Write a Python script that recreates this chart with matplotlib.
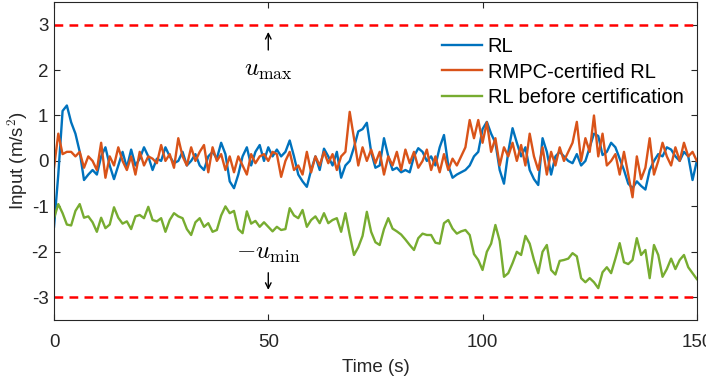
import numpy as np
import matplotlib
matplotlib.use('Agg')
import matplotlib.pyplot as plt

plt.rcParams['font.family'] = ['Liberation Sans', 'DejaVu Sans']
plt.rcParams['mathtext.fontset'] = 'cm'
plt.rcParams['axes.unicode_minus'] = False

# time axis (s), 1 s samples
time = np.arange(0, 151)

u_max = 3.0
u_min = 3.0

rl = [-1.45, -0.30, 1.10, 1.22, 0.85, 0.60, 0.20, -0.42, -0.30, -0.20,
      -0.30, 0.10, 0.30, -0.10, -0.40, -0.10, 0.20, -0.15, 0.25, -0.10,
      0.05, 0.30, 0.10, -0.20, 0.05, 0.00, 0.30, 0.10, -0.05, 0.00,
      0.20, -0.10, 0.00, 0.15, -0.10, -0.20, 0.10, 0.20, 0.05, 0.40,
      0.15, -0.45, -0.60, -0.30, 0.10, 0.30, -0.10, 0.20, 0.35, 0.00,
      0.30, 0.10, 0.25, 0.10, 0.20, 0.45, 0.10, -0.30, -0.45, -0.57,
      -0.20, 0.10, -0.20, 0.27, 0.10, -0.10, 0.20, -0.37, -0.10, 0.00,
      0.30, 0.65, 0.70, 0.84, 0.20, -0.15, -0.10, 0.50, 0.10, -0.20,
      -0.15, -0.25, -0.20, -0.25, 0.10, 0.28, 0.20, 0.00, 0.10, -0.10,
      0.30, 0.57, -0.10, -0.37, -0.30, -0.25, -0.20, -0.10, 0.10, 0.20,
      0.70, 0.86, 0.60, 0.40, -0.20, -0.50, 0.20, 0.72, 0.40, 0.10,
      0.30, -0.20, -0.40, -0.53, 0.50, 0.20, -0.30, 0.10, 0.20, 0.10,
      0.00, -0.05, 0.15, -0.10, 0.00, 0.30, 0.60, 0.55, 0.13, 0.20,
      0.40, 0.30, 0.05, -0.20, -0.50, -0.60, -0.45, -0.55, -0.63, -0.20,
      0.00, 0.15, 0.10, 0.30, 0.25, 0.10, 0.00, 0.20, 0.10, -0.42,
      0.00]

rmpc_rl = [-0.15, 0.60, 0.15, 0.20, 0.20, 0.10, 0.20, -0.15, 0.10, 0.00,
           -0.20, 0.40, -0.37, 0.10, -0.10, 0.30, 0.00, -0.20, 0.10, -0.30,
           0.20, -0.10, 0.10, 0.05, -0.05, 0.35, 0.00, 0.15, -0.15, 0.50,
           0.10, -0.10, 0.30, 0.00, 0.20, 0.35, -0.25, 0.30, 0.00, 0.15,
           -0.20, 0.10, -0.25, 0.10, -0.10, -0.30, 0.15, -0.05, 0.10, 0.15,
           0.00, 0.20, 0.15, -0.35, 0.00, 0.20, -0.20, -0.10, -0.30, 0.20,
           -0.25, 0.10, -0.10, 0.20, -0.05, 0.15, -0.20, 0.10, 0.20, 1.08,
           0.50, -0.10, 0.30, 0.00, 0.25, -0.05, 0.20, -0.30, 0.10, -0.10,
           0.20, -0.20, 0.25, -0.05, 0.20, -0.15, 0.00, 0.25, -0.20, 0.10,
           -0.25, 0.15, -0.20, 0.05, -0.10, 0.10, 0.30, 0.90, 0.50, 0.90,
           0.40, 0.85, 0.20, 0.50, -0.10, 0.30, 0.10, 0.40, 0.00, 0.35,
           -0.10, 0.60, 0.10, -0.20, 0.30, -0.30, 0.20, -0.10, 0.30, 0.00,
           0.20, 0.40, 0.86, 0.00, 0.50, 0.20, 1.00, 0.10, 0.60, -0.10,
           0.00, 0.15, -0.30, 0.20, -0.30, -0.80, 0.10, -0.40, -0.15, 0.50,
           -0.30, 0.00, 0.40, 0.10, -0.10, 0.30, 0.00, 0.40, 0.10, 0.20,
           0.00]

rl_before = [-1.26, -0.95, -1.15, -1.40, -1.42, -1.10, -0.95, -1.25, -1.22, -1.35,
             -1.56, -1.25, -1.48, -1.40, -1.02, -1.25, -1.38, -1.33, -1.50, -1.22,
             -1.19, -1.26, -1.01, -1.30, -1.33, -1.26, -1.56, -1.30, -1.15, -1.22,
             -1.26, -1.50, -1.63, -1.35, -1.26, -1.45, -1.37, -1.56, -1.52, -1.20,
             -1.00, -1.15, -1.10, -1.50, -1.59, -1.11, -1.38, -1.32, -1.45, -1.35,
             -1.45, -1.55, -1.45, -1.52, -1.50, -1.04, -1.20, -1.26, -1.08, -1.45,
             -1.30, -1.22, -1.37, -1.15, -1.37, -1.30, -1.26, -1.56, -1.15, -1.63,
             -2.07, -1.90, -1.65, -1.12, -1.56, -1.79, -1.85, -1.50, -1.26, -1.49,
             -1.55, -1.62, -1.73, -1.85, -1.96, -1.70, -1.60, -1.63, -1.63, -1.80,
             -1.82, -1.37, -1.30, -1.49, -1.60, -1.55, -1.52, -1.63, -2.05, -2.18,
             -2.40, -2.00, -1.82, -1.41, -1.76, -2.55, -2.47, -2.25, -2.00, -2.07,
             -1.65, -1.82, -2.18, -2.47, -2.00, -1.85, -2.40, -2.50, -2.20, -2.18,
             -2.15, -2.03, -2.10, -2.58, -2.67, -2.58, -2.67, -2.80, -2.45, -2.34,
             -2.47, -2.15, -1.81, -2.23, -2.27, -2.18, -1.70, -2.07, -1.96, -2.58,
             -1.85, -2.07, -2.55, -2.38, -2.15, -2.38, -2.18, -2.07, -2.34, -2.47,
             -2.60]

fig = plt.figure(figsize=(7.06, 3.8), dpi=100)
ax = fig.add_axes([0.0765, 0.158, 0.9105, 0.837])

ax.plot(time, rl, color='#0072BD', lw=1.7, label='RL')
ax.plot(time, rmpc_rl, color='#D95319', lw=1.7, label='RMPC-certified RL')
ax.plot(time, rl_before, color='#77AC30', lw=1.7, label='RL before certification')
ax.axhline(u_max, color='red', lw=1.8, ls=(0, (3.5, 2.5)))
ax.axhline(-u_min, color='red', lw=1.8, ls=(0, (3.5, 2.5)))

ax.annotate('', xy=(50, 2.9), xytext=(50, 2.38),
            arrowprops=dict(arrowstyle='->', color='black', lw=1))
ax.text(50, 2.0, r'$u_{\max}$', ha='center', va='center', fontsize=18)
ax.text(50, -2.03, r'$-u_{\min}$', ha='center', va='center', fontsize=18)
ax.annotate('', xy=(50, -2.9), xytext=(50, -2.4),
            arrowprops=dict(arrowstyle='->', color='black', lw=1))

ax.set_xlim(0, 150)
ax.set_ylim(-3.5, 3.5)
ax.set_xticks([0, 50, 100, 150])
ax.set_yticks([-3, -2, -1, 0, 1, 2, 3])
ax.tick_params(direction='in', top=True, right=True, labelsize=13.5, length=4,
               color='#262626', labelcolor='#262626')
ax.tick_params(axis='x', pad=10)
ax.tick_params(axis='y', pad=4)
for s in ax.spines.values():
    s.set_color('#262626')
    s.set_linewidth(0.8)
ax.set_xlabel('Time (s)', fontsize=13.5, color='#262626', labelpad=6)
ax.set_ylabel('Input (m/s$^2$)', fontsize=13.5, color='#262626', labelpad=1)

ax.legend(loc='upper left', bbox_to_anchor=(0.603, 0.89), frameon=False,
          fontsize=14.5, handlelength=2.0, handletextpad=0.28, labelspacing=0.33,
          borderpad=0, borderaxespad=0)

fig.savefig('out.png', dpi=100)
